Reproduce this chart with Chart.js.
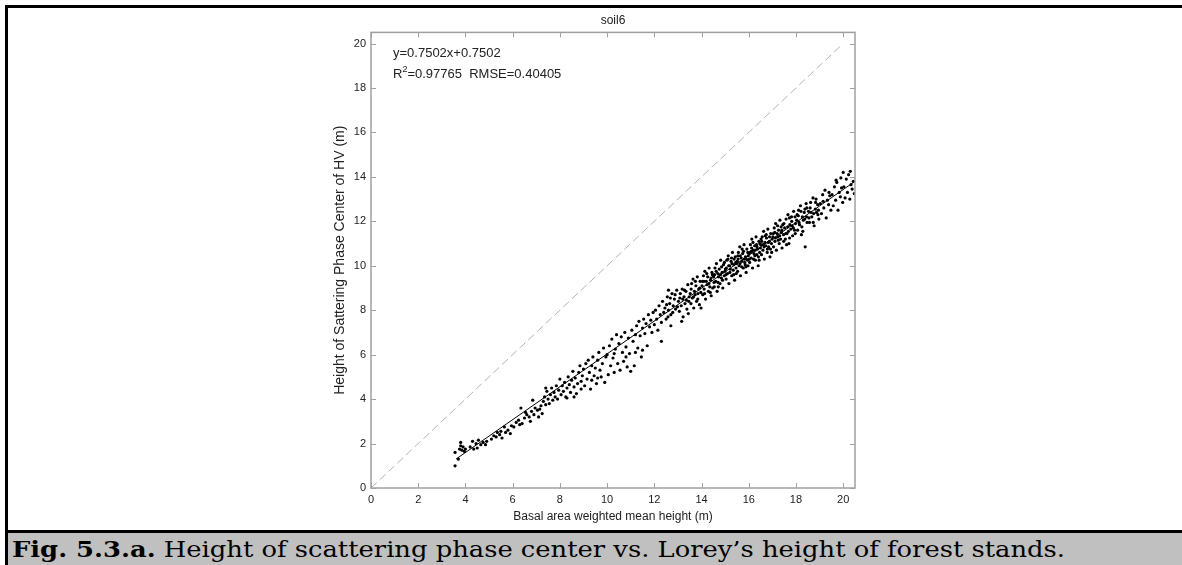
<!DOCTYPE html>
<html>
<head>
<meta charset="utf-8">
<script src="https://cdn.jsdelivr.net/npm/chart.js@4.4.0/dist/chart.umd.min.js"></script>
<style>
  html, body { margin:0; padding:0; background:#fff; width:1182px; height:565px; overflow:hidden; }
  .bar { position:absolute; background:#000; }
  #plot { position:absolute; left:8px; top:8px; width:1174px; height:522px; }
  #caption { position:absolute; left:8px; top:533px; right:0; height:32px; background:#c0c0c0; }
  #capText { position:absolute; left:4px; top:3px; line-height:26px; font-family:"DejaVu Serif", serif; font-size:22px; white-space:nowrap; transform-origin:0 50%; color:#000; }
</style>
</head>
<body>
<div class="bar" style="left:5px;top:5px;width:1177px;height:3px"></div>
<div class="bar" style="left:5px;top:5px;width:3px;height:560px"></div>
<div class="bar" style="left:5px;top:530px;width:1177px;height:3px"></div>
<div id="plot"><canvas id="soilChart"></canvas></div>
<div id="caption"><span id="capText"><b>Fig. 5.3.a.</b> Height of scattering phase center vs. Lorey’s height of forest stands.</span></div>
<script>
// axis ticks
const xTicks = [0, 2, 4, 6, 8, 10, 12, 14, 16, 18, 20]
const yTicks = [0, 2, 4, 6, 8, 10, 12, 14, 16, 18, 20]

// regression text shown in the plot
const fitText = 'y=0.7502x+0.7502'
const r2Text = '=0.97765  RMSE=0.40405'

// reference lines
const oneToOne = [[0, 0], [20, 20]]
const fitLine = [[3.6, 1.3], [20.5, 13.8]]

// stands, [basal area weighted mean height, phase center height]
const standsA = [[3.56,1.0],[3.56,1.6],[3.7,1.3],[3.75,1.75],[3.8,2.05],[3.8,1.9],[3.85,1.7],[3.9,1.85],[3.95,1.65],[4.0,1.75],
  [4.2,1.85],[4.3,2.1],[4.35,1.75],[4.45,2.0],[4.5,1.8],[4.55,2.15],[4.65,1.95],[4.75,2.05],[4.85,1.95],[4.9,2.1],
  [5.1,2.2],[5.2,2.35],[5.3,2.3],[5.35,2.5],[5.45,2.4],[5.5,2.55],[5.55,2.25],[5.65,2.75],[5.7,2.5],[5.8,2.6],[5.9,2.45],[5.95,2.8],
  [6.05,2.75],[6.15,2.95],[6.25,3.05],[6.3,2.85],[6.35,3.6],[6.4,2.9],[6.5,3.15],[6.55,3.4],[6.6,3.3],[6.7,3.2],[6.75,3.0],[6.8,3.45],[6.85,3.95],[6.9,3.3],[6.95,3.6],
  [7.05,3.5],[7.1,3.2],[7.15,3.55],[7.2,3.7],[7.25,3.35],[7.3,3.9],[7.35,4.1],[7.4,3.75],[7.4,4.5],[7.45,4.35],[7.5,4.0],[7.55,3.8],[7.6,4.2],[7.65,4.5],[7.7,3.95],[7.75,4.3],[7.8,4.1],[7.85,4.6],[7.9,4.0],[7.95,4.4]]
const standsB = [[8.0,4.9],[8.05,4.2],[8.1,4.6],[8.15,4.35],[8.2,4.75],[8.25,4.1],[8.3,4.5],[8.3,4.05],[8.35,5.0],[8.4,4.65],[8.45,4.3],[8.5,4.85],[8.55,5.25],[8.6,4.55],[8.6,4.1],[8.65,4.95],[8.7,4.25],[8.75,4.7],[8.8,5.2],[8.85,5.5],[8.9,4.8],[8.9,4.45],[8.95,5.05],
  [9.0,5.35],[9.05,4.6],[9.1,5.6],[9.15,4.9],[9.2,5.75],[9.25,5.2],[9.3,4.45],[9.35,5.5],[9.35,4.85],[9.4,5.9],[9.45,5.05],[9.5,5.4],[9.55,4.7],[9.6,5.75],[9.6,4.95],[9.65,6.1],[9.7,5.3],[9.75,5.0],[9.8,5.6],[9.85,6.3],[9.9,4.75],[9.95,5.9],
  [10.0,6.0],[10.05,5.1],[10.1,6.4],[10.15,5.5],[10.2,6.7],[10.25,5.85],[10.3,5.2],[10.3,6.05],[10.35,6.25],[10.4,6.9],[10.45,5.6],[10.5,6.5],[10.55,5.3],[10.6,6.8],[10.65,6.1],[10.7,5.7],[10.75,7.0],[10.8,6.35],[10.8,5.9],[10.85,5.45],[10.9,6.75],[10.95,6.05],[11.0,5.25],
  [11.05,7.1],[11.1,6.6],[11.15,5.5],[11.2,6.9],[11.2,6.1],[11.25,7.3],[11.3,6.3],[11.35,7.5],[11.4,6.85],[11.45,5.9],[11.5,7.2],[11.5,6.2],[11.55,7.6],[11.6,6.95],[11.65,7.4],[11.7,6.4],[11.75,7.8],[11.8,7.25],[11.85,7.55],[11.9,7.0],[11.95,7.9],
  [12.0,7.35],[12.05,8.0],[12.1,7.6],[12.15,7.1],[12.2,8.2],[12.25,7.8],[12.3,7.45],[12.3,6.6],[12.35,8.4],[12.4,7.9],[12.45,8.1],[12.5,7.6],[12.55,8.6],[12.6,8.0],[12.6,8.9],[12.65,8.3],[12.7,7.8],[12.7,7.3],[12.75,8.75],[12.8,8.2],[12.85,8.5],[12.9,8.05],[12.95,8.9]]
const standsC = [[13.02,8.4],[13.06,7.95],[13.1,8.75],[13.14,8.2],[13.18,8.95],[13.22,7.7],[13.26,8.6],[13.3,8.3],[13.34,8.85],[13.38,8.05],[13.42,9.15],[13.46,8.4],[13.48,8.6],[13.2,8.5],
  [13.52,8.75],[13.55,8.3],[13.58,9.2],[13.61,8.55],[13.64,9.4],[13.67,8.1],[13.7,8.85],[13.73,8.7],[13.76,9.1],[13.79,8.4],[13.82,9.5],[13.85,8.75],[13.88,8.95],[13.91,8.25],[13.94,9.3],[13.97,8.8],
  [14.02,9.1],[14.05,8.7],[14.08,9.55],[14.11,8.95],[14.14,9.75],[14.17,8.5],[14.2,9.3],[14.23,9.15],[14.26,9.5],[14.29,8.85],[14.32,9.9],[14.35,9.05],[14.38,9.35],[14.41,8.65],[14.44,9.7],[14.47,9.0],[14.1,9.3],[14.4,9.45],
  [14.51,9.5],[14.54,9.05],[14.57,9.9],[14.6,9.3],[14.63,10.1],[14.66,8.85],[14.69,9.65],[14.72,9.5],[14.75,9.85],[14.78,9.2],[14.81,10.25],[14.84,9.45],[14.87,9.7],[14.9,9.0],[14.93,10.05],[14.96,9.55],[14.99,9.75],[14.55,9.6],[14.7,9.25],[14.85,9.95],
  [15.01,9.85],[15.04,9.4],[15.07,10.25],[15.1,9.65],[15.13,10.45],[15.16,9.2],[15.19,10.0],[15.22,9.85],[15.25,10.2],[15.28,9.55],[15.31,10.6],[15.34,9.8],[15.37,10.05],[15.4,9.35],[15.43,10.4],[15.46,9.9],[15.49,10.1],[15.05,9.9],[15.15,10.0],[15.27,10.35],[15.36,9.6],[15.45,10.15],
  [15.51,10.2],[15.53,9.75],[15.56,10.6],[15.59,10.0],[15.62,10.85],[15.65,9.55],[15.68,10.35],[15.71,10.2],[15.74,10.55],[15.77,9.9],[15.8,10.95],[15.83,10.15],[15.86,10.4],[15.89,9.7],[15.92,10.75],[15.95,10.25],[15.98,10.45],[15.55,10.3],[15.64,10.45],[15.7,9.95],[15.78,10.65],[15.85,10.05],[15.9,10.3],[15.97,10.0],
  [16.01,10.55],[16.04,10.15],[16.07,10.95],[16.1,10.35],[16.13,11.2],[16.16,9.9],[16.19,10.7],[16.22,10.55],[16.25,10.9],[16.28,10.25],[16.31,11.3],[16.34,10.5],[16.37,10.75],[16.4,10.0],[16.43,11.1],[16.46,10.6],[16.49,10.8],[16.05,10.6],[16.12,10.8],[16.2,10.3],[16.27,10.7],[16.33,10.95],[16.41,10.4],[16.47,11.0]]
const standsD = [[16.51,10.95],[16.54,10.5],[16.57,11.3],[16.6,10.7],[16.63,11.55],[16.66,10.3],[16.69,11.05],[16.72,10.9],[16.75,11.25],[16.78,10.6],[16.81,11.65],[16.84,10.85],[16.87,11.1],[16.9,10.4],[16.93,11.45],[16.96,11.0],[16.99,11.2],[16.55,11.1],[16.65,10.85],[16.74,11.4],[16.83,11.05],[16.92,10.75],
  [17.02,11.3],[17.05,10.85],[17.08,11.7],[17.11,11.1],[17.14,11.9],[17.17,10.7],[17.2,11.45],[17.23,11.3],[17.26,11.6],[17.29,11.0],[17.32,12.05],[17.35,11.2],[17.38,11.5],[17.41,10.8],[17.44,11.85],[17.47,11.4],[17.1,11.5],[17.25,11.15],[17.37,11.75],[17.48,11.1],
  [17.52,11.7],[17.55,11.2],[17.58,12.1],[17.62,11.45],[17.66,12.3],[17.7,11.0],[17.74,11.85],[17.78,11.65],[17.82,12.0],[17.86,11.35],[17.9,12.45],[17.94,11.6],[17.98,11.9],[17.6,10.95],[17.72,12.15],[17.84,11.8],[17.96,12.2],[17.68,11.55],
  [18.03,12.05],[18.07,11.6],[18.11,12.5],[18.15,11.85],[18.19,12.7],[18.23,11.4],[18.27,12.2],[18.31,12.05],[18.35,12.4],[18.39,10.85],[18.43,12.8],[18.47,11.95],[18.1,12.25],[18.25,11.75],[18.38,12.55],[18.45,12.2],
  [18.53,12.45],[18.57,11.95],[18.62,12.85],[18.67,12.2],[18.72,13.05],[18.77,11.8],[18.82,12.55],[18.87,12.4],[18.92,12.75],[18.97,12.1],[18.6,12.6],[18.75,12.35],[18.85,13.0],[18.95,12.5],
  [19.03,12.8],[19.08,12.35],[19.13,13.2],[19.18,12.6],[19.23,13.4],[19.28,12.15],[19.33,12.95],[19.38,12.75],[19.43,13.15],[19.48,12.5],[19.15,12.9],[19.4,13.3],
  [19.53,13.2],[19.58,12.7],[19.63,13.55],[19.68,12.95],[19.73,13.75],[19.78,12.5],[19.83,13.3],[19.88,13.1],[19.93,13.5],[19.98,12.85],[19.7,13.85],[19.9,13.95],
  [20.03,13.55],[20.08,13.05],[20.13,13.9],[20.18,13.3],[20.23,14.1],[20.28,13.0],[20.33,13.65],[20.38,13.45],[20.43,13.8],[20.47,13.25],[20.0,14.2],[20.3,14.25]]
// extra stands in the dense middle band
const standsE = [[12.52,8.25],[12.58,7.7],[12.68,8.55],[12.78,7.9],[12.88,8.7],[12.98,8.15],[13.08,8.55],[13.16,7.5],[13.28,8.9],[13.36,8.45],[13.44,7.85],[13.56,8.95],[13.66,8.6],[13.74,9.3],[13.84,8.5],[13.92,9.0],[13.98,8.1],
  [14.04,9.3],[14.13,8.75],[14.22,9.65],[14.31,9.2],[14.37,8.8],[14.46,9.6],[14.53,9.25],[14.62,9.75],[14.71,9.05],[14.8,9.6],[14.89,9.35],[14.97,10.15],
  [15.03,9.6],[15.12,10.3],[15.2,9.7],[15.29,10.1],[15.38,10.3],[15.47,9.65],[15.54,10.45],[15.63,10.1],[15.72,10.75],[15.81,10.3],[15.88,9.95],[15.96,10.6],
  [16.03,10.3],[16.11,10.65],[16.18,11.05],[16.26,10.45],[16.35,10.85],[16.44,10.25],[16.52,11.2],[16.61,10.95],[16.7,11.35],[16.79,10.75],[16.88,11.3],[16.97,10.6],
  [17.04,11.45],[17.13,11.25],[17.22,11.8],[17.31,11.35],[17.4,11.6],[17.49,11.9],[17.57,11.45],[17.65,11.75],[17.73,11.25],[17.81,12.2],[17.89,11.7],[17.97,11.45],
  [18.05,12.3],[18.13,11.95],[18.21,12.45],[18.29,11.55],[18.37,12.1],[18.46,12.6],[18.55,12.15],[18.64,12.4],[18.73,11.95],[18.83,12.85],[18.93,12.3]]

const stands = standsA.concat(standsB, standsC, standsD, standsE).map(p => ({x: p[0], y: p[1]}))
const toXY = arr => arr.map(p => ({x: p[0], y: p[1]}))

const font = 'Liberation Sans'
const textColor = '#222'
const axisColor = '#a0a0a0'

// matlab style box with inward ticks + regression text
const boxTicks = {
  id: 'boxTicks',
  afterDatasetsDraw(chart) {
    const {ctx, chartArea: a, scales: {x, y}} = chart
    ctx.save()
    ctx.strokeStyle = axisColor
    ctx.lineWidth = 1.5
    ctx.strokeRect(a.left, a.top, a.right - a.left, a.bottom - a.top)
    ctx.lineWidth = 1
    ctx.beginPath()
    xTicks.forEach(v => {
      const px = Math.round(x.getPixelForValue(v)) + 0.5
      ctx.moveTo(px, a.bottom); ctx.lineTo(px, a.bottom - 5)
      ctx.moveTo(px, a.top); ctx.lineTo(px, a.top + 5)
    })
    yTicks.forEach(v => {
      const py = Math.round(y.getPixelForValue(v)) + 0.5
      ctx.moveTo(a.left, py); ctx.lineTo(a.left + 5, py)
      ctx.moveTo(a.right, py); ctx.lineTo(a.right - 5, py)
    })
    ctx.stroke()

    ctx.fillStyle = textColor
    ctx.textBaseline = 'middle'
    ctx.textAlign = 'left'
    const tx = a.left + 22
    ctx.font = '13px "' + font + '"'
    ctx.fillText(fitText, tx, a.top + 21)
    ctx.fillText('R', tx, a.top + 42)
    let w = ctx.measureText('R').width
    ctx.font = '9px "' + font + '"'
    ctx.fillText('2', tx + w, a.top + 37)
    w += ctx.measureText('2').width
    ctx.font = '13px "' + font + '"'
    ctx.fillText(r2Text, tx + w, a.top + 42)
    ctx.restore()
  }
}

new Chart('soilChart', {
  type: 'scatter',
  data: {
    datasets: [{
      label: 'stands',
      data: stands,
      pointRadius: 1.6,
      pointBackgroundColor: '#000',
      pointBorderWidth: 0
    }, {
      label: '1:1',
      data: toXY(oneToOne),
      showLine: true,
      pointRadius: 0,
      borderColor: '#b4b4b4',
      borderWidth: 1,
      borderDash: [8, 4]
    }, {
      label: 'fit',
      data: toXY(fitLine),
      showLine: true,
      pointRadius: 0,
      borderColor: '#000',
      borderWidth: 1
    }]
  },
  options: {
    responsive: true,
    maintainAspectRatio: false,
    animation: false,
    layout: { padding: { left: 322, right: 327, top: 0, bottom: 0 } },
    plugins: {
      legend: { display: false },
      tooltip: { enabled: false },
      title: {
        display: true,
        fullSize: false,
        text: 'soil6',
        color: textColor,
        font: { family: font, size: 12, weight: 'normal' },
        padding: { top: 5, bottom: 5 }
      }
    },
    scales: {
      x: {
        type: 'linear',
        min: 0,
        max: 20.5,
        grid: { display: false, drawTicks: false },
        border: { display: false },
        afterBuildTicks: s => { s.ticks = xTicks.map(v => ({value: v})) },
        afterFit: s => { s.height = 42; s.paddingLeft = 0; s.paddingRight = 0 },
        ticks: { padding: 5, color: textColor, maxRotation: 0, autoSkip: false, font: { family: font, size: 11 } },
        title: {
          display: true,
          text: 'Basal area weighted mean height (m)',
          color: textColor,
          font: { family: font, size: 12 },
          padding: { top: 0, bottom: 6 }
        }
      },
      y: {
        type: 'linear',
        min: 0,
        max: 20.5,
        grid: { display: false, drawTicks: false },
        border: { display: false },
        afterBuildTicks: s => { s.ticks = yTicks.map(v => ({value: v})) },
        afterFit: s => { s.width = 41; s.paddingTop = 0; s.paddingBottom = 0 },
        ticks: { padding: 5, color: textColor, autoSkip: false, font: { family: font, size: 11 } },
        title: {
          display: true,
          text: 'Height of Sattering Phase Center of HV (m)',
          color: textColor,
          font: { family: font, size: 14 },
          padding: { top: 2, bottom: 0 }
        }
      }
    }
  },
  plugins: [boxTicks]
})

// stretch caption to the width of the original line
const cap = document.getElementById('capText')
cap.style.transform = 'scaleX(' + (1053 / cap.getBoundingClientRect().width) + ')'
</script>
</body>
</html>
